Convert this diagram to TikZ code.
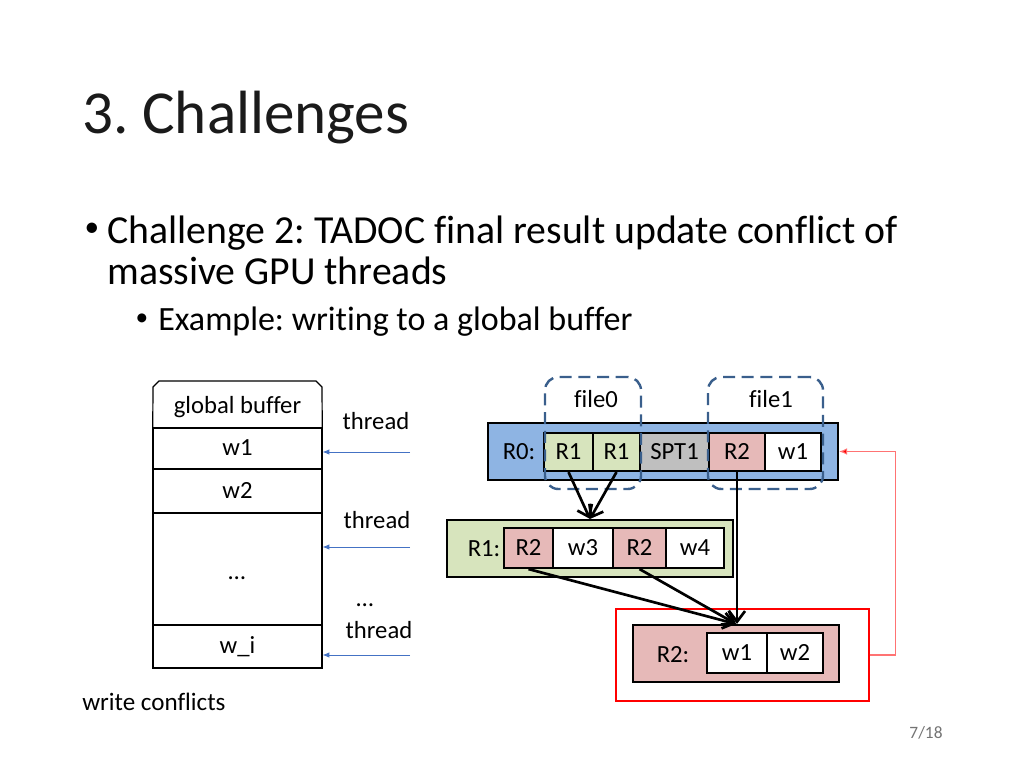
\documentclass[tikz,border=0pt]{standalone}
\usepackage{fontspec}
\setmainfont{Carlito}[Ligatures=NoCommon]
\usetikzlibrary{arrows.meta,calc}
\frenchspacing
\definecolor{rblue}{HTML}{8EB4E3}
\definecolor{rgreen}{HTML}{D7E4BD}
\definecolor{rpink}{HTML}{E6B9B8}
\definecolor{rgrey}{HTML}{BFBFBF}
\definecolor{dashblue}{HTML}{3A5F8C}
\definecolor{arrblue}{HTML}{4472C4}
\definecolor{titlecol}{HTML}{1A1A1A}
\tikzset{
  px/.style={x=0.75pt,y=-0.75pt},
  dfont/.style={font=\fontsize{18.5}{22}\selectfont,text height=13pt,text depth=2pt},
  outerbox/.style={draw=black,line width=1.6pt,inner sep=0pt,minimum height=57*0.75pt},
  cell/.style={draw=black,line width=1.6pt,inner sep=0pt,dfont},
  gbrow/.style={draw=black,line width=0.9pt,inner sep=0pt,minimum width=169*0.75pt,dfont},
  lbl/.style={inner sep=0pt,dfont},
  filebox/.style={draw=dashblue,line width=1.8pt,dash pattern=on 9pt off 5pt,rounded corners=10pt,inner sep=0pt,minimum width=96*0.75pt,minimum height=112*0.75pt},
  blk/.style={draw=black,line width=2pt,-{Straight Barb[length=8pt,width=12pt,line width=2pt]}},
  thr/.style={draw=arrblue,line width=0.6pt,-{Latex[length=5pt,width=4pt]}},
}
\begin{document}
\begin{tikzpicture}[px]
\useasboundingbox (0,0) rectangle (1024,768);
% title and bullets
\node[anchor=base west,inner sep=0pt,text=titlecol,font=\fontsize{45.8}{50}\selectfont] (title) at (82,133) {3. Challenges};
\node[inner sep=0pt,font=\fontsize{22}{26}\selectfont] (b1) at (92,230) {\textbullet};
\node[anchor=base west,inner sep=0pt,font=\fontsize{29.8}{34}\selectfont] (t1) at (107,243) {Challenge 2: TADOC final result update conflict of};
\node[anchor=base west,inner sep=0pt,font=\fontsize{29.8}{34}\selectfont] (t2) at (107,284) {massive GPU threads};
\node[inner sep=0pt,font=\fontsize{19}{22}\selectfont] (b2) at (142,320) {\textbullet};
\node[anchor=base west,inner sep=0pt,font=\fontsize{25.5}{30}\selectfont] (t3) at (158,330) {Example: writing to a global buffer};

% global buffer
\node[lbl,minimum width=169*0.75pt,minimum height=47*0.75pt] (gbh) at (237.5,406) {global buffer};
\draw[line width=0.9pt] (gbh.south west) -- (153,387) -- (159,381) -- (316,381) -- (322,387) -- (gbh.south east);
\node[gbrow,minimum height=41*0.75pt] (gw1) at (237.5,448.5) {w1};
\node[gbrow,minimum height=44*0.75pt] (gw2) at (237.5,491) {w2};
\node[gbrow,minimum height=112*0.75pt] (gdots) at (237.5,569) {};
\node[lbl] (gdl) at (237,572) {\dots};
\node[gbrow,minimum height=43*0.75pt] (gwi) at (237.5,646.5) {w\_i};

\node[lbl] (th1) at (376,422) {thread};
\node[lbl] (th2) at (377,521) {thread};
\node[lbl] (thd) at (365,599) {\dots};
\node[lbl] (th3) at (379,631) {thread};
\coordinate (s1) at (410,452);
\coordinate (s2) at (410,547);
\coordinate (s3) at (410,655);
\draw[thr] (s1) -- (s1 -| gw1.east);
\draw[thr] (s2) -- (s2 -| gdots.east);
\draw[thr] (s3) -- (s3 -| gwi.east);

% R0
\node[outerbox,fill=rblue,minimum width=350*0.75pt] (R0) at (663,451.5) {};
\node[lbl] (R0l) at (519,452) {R0:};
\node[cell,fill=rgreen,minimum width=49*0.75pt,minimum height=38*0.75pt] (c1) at (568.5,452) {R1};
\node[cell,fill=rgreen,minimum width=47*0.75pt,minimum height=38*0.75pt] (c2) at (616.5,452) {R1};
\node[cell,fill=rgrey,minimum width=69*0.75pt,minimum height=38*0.75pt] (c3) at (674.5,452) {SPT1};
\node[cell,fill=rpink,minimum width=56*0.75pt,minimum height=38*0.75pt] (c4) at (737,452) {R2};
\node[cell,fill=white,minimum width=56*0.75pt,minimum height=38*0.75pt] (c5) at (793,452) {w1};
\node[filebox] (f0) at (593,433) {};
\node[filebox,minimum width=115*0.75pt] (f1) at (765.5,433) {};
\node[lbl] (f0l) at (596,400) {file0};
\node[lbl] (f1l) at (771,400) {file1};

% R1
\node[outerbox,fill=rgreen,minimum width=286*0.75pt] (R1) at (590,548.5) {};
\node[lbl] (R1l) at (484,549) {R1:};
\node[cell,fill=rpink,minimum width=49*0.75pt,minimum height=40*0.75pt] (d1) at (528.5,548) {R2};
\node[cell,fill=white,minimum width=60*0.75pt,minimum height=40*0.75pt] (d2) at (583,548) {w3};
\node[cell,fill=rpink,minimum width=53*0.75pt,minimum height=40*0.75pt] (d3) at (639.5,548) {R2};
\node[cell,fill=white,minimum width=58*0.75pt,minimum height=40*0.75pt] (d4) at (695,548) {w4};

% R2
\node[draw=red,line width=0.8pt,inner sep=0pt,minimum width=253*0.75pt,minimum height=92*0.75pt] (red) at (742.5,655) {};
\node[outerbox,fill=rpink,minimum width=206*0.75pt] (R2) at (736,653.5) {};
\node[lbl] (R2l) at (673,655) {R2:};
\node[cell,fill=white,minimum width=60*0.75pt,minimum height=40*0.75pt] (e1) at (737,653) {w1};
\node[cell,fill=white,minimum width=56*0.75pt,minimum height=40*0.75pt] (e2) at (795,653) {w2};

% arrows
\draw[blk] (c1.south) -- (R1.north);
\draw[blk] (c2.south) -- (R1.north);
\draw[blk] (c4.south) -- (c4.south |- R2.north);
\draw[blk] (d1.south) -- (R2.north);
\draw[blk] (d3.south) -- (R2.north);
\draw[draw=red!55,line width=0.8pt,-{Latex[length=6pt,width=5pt,fill=red]}] (red.east) -- ++(26,0) |- (R0.east);

% footer
\node[anchor=west,inner sep=0pt,font=\fontsize{18.8}{22}\selectfont] (wc) at (82,702) {write conflicts};
\node[inner sep=0pt,text=black!55,font=\fontsize{13}{15}\selectfont] (pg) at (926,733) {7/18};
\end{tikzpicture}
\end{document}
